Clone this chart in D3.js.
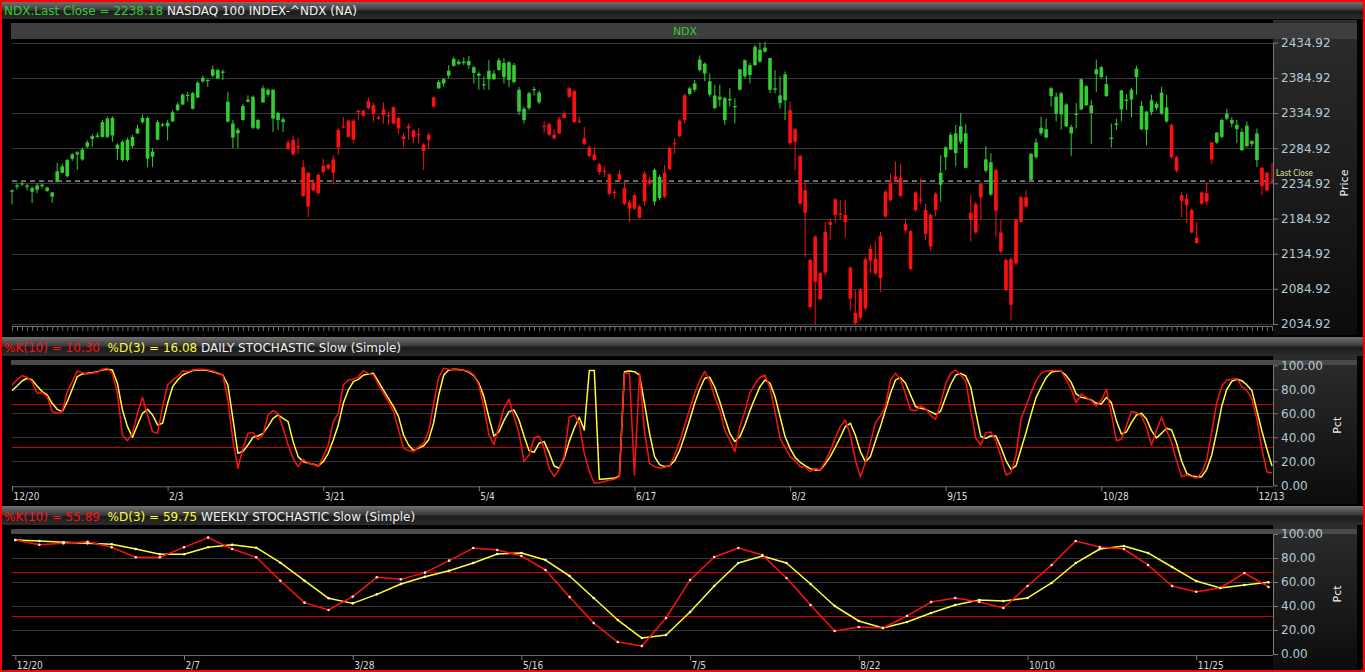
<!DOCTYPE html>
<html>
<head>
<meta charset="utf-8">
<script src="https://cdn.jsdelivr.net/npm/d3@7"></script>
<style>
body { margin: 0; background: #000; overflow: hidden; }
svg { display: block; }
</style>
</head>
<body>
<script>
// daily candles, 12/20 .. 12/13 (252 sessions)
var open = [
2223,2230,2234,2232,2228,2226,2233,2229,2222,2237, 2250,2245,2270,2276,2269,2287,2298,2301,2301,2301,
2303,2290,2268,2268,2288,2306,2322,2328,2273,2297, 2318,2316,2323,2339,2347,2361,2341,2357,2380,2382,
2388,2384,2392,2351,2320,2311,2325,2354,2314,2313, 2350,2361,2368,2335,2326,2293,2297,2288,2258,2250,
2236,2221,2251,2256,2250,2286,2315,2301,2297,2336, 2331,2342,2334,2327,2332,2331,2320,2328,2302,2313,
2310,2304,2290,2297,2344,2370,2377,2388,2402,2405, 2406,2403,2400,2391,2376,2383,2383,2396,2406,2407,
2403,2368,2325,2342,2368,2364,2317,2319,2304,2306, 2328,2370,2366,2323,2299,2286,2276,2262,2253,2248,
2223,2240,2228,2208,2199,2202,2209,2240,2209,2214, 2216,2255,2291,2302,2325,2362,2368,2396,2405,2380,
2342,2358,2356,2355,2345,2368,2387,2403,2403,2408, 2428,2413,2370,2360,2353,2339,2312,2274,2225,2126,
2095,2107,2108,2180,2190,2192,2190,2115,2051,2044, 2057,2125,2128,2100,2188,2211,2240,2243,2177,2167,
2197,2212,2197,2145,2197,2233,2272,2283,2306,2294, 2306,2193,2165,2215,2253,2265,2254,2165,2126,2062,
2121,2180,2215,2240,2272,2306,2312,2359,2358,2333, 2347,2315,2333,2340,2373,2346,2390,2400,2376,2300,
2320,2340,2354,2354,2386,2345,2311,2336,2348,2334, 2343,2318,2272,2218,2204,2197,2158,2206,2209,2269,
2293,2301,2334,2325,2318,2308,2288,2295,2306,2257, 2250,2236];
var high = [
2226,2235,2237,2234,2231,2235,2235,2230,2223,2264, 2263,2270,2278,2281,2286,2296,2305,2307,2325,2330,
2330,2292,2296,2300,2304,2318,2333,2330,2285,2325, 2321,2325,2339,2350,2363,2365,2365,2380,2388,2383,
2402,2398,2397,2365,2325,2314,2348,2360,2360,2327, 2374,2370,2369,2337,2329,2297,2303,2300,2268,2251,
2240,2249,2270,2263,2275,2314,2329,2326,2326,2340, 2340,2357,2349,2331,2350,2337,2345,2330,2306,2320,
2312,2314,2292,2307,2359,2382,2385,2403,2415,2411, 2414,2416,2402,2394,2387,2410,2396,2413,2413,2409,
2406,2372,2344,2365,2372,2367,2323,2321,2312,2330, 2338,2372,2369,2330,2315,2288,2287,2264,2259,2249,
2226,2254,2240,2211,2220,2204,2252,2244,2256,2247, 2261,2287,2299,2326,2362,2372,2382,2417,2407,2391,
2375,2375,2358,2370,2356,2398,2411,2406,2432,2435, 2436,2414,2396,2387,2394,2351,2314,2275,2237,2128,
2161,2109,2180,2185,2214,2211,2211,2116,2083,2086, 2130,2147,2152,2166,2225,2249,2266,2262,2185,2168,
2224,2242,2206,2192,2223,2275,2288,2307,2318,2335, 2319,2218,2209,2237,2288,2278,2256,2183,2128,2130,
2185,2217,2225,2278,2299,2330,2327,2372,2364,2365, 2349,2318,2349,2384,2375,2353,2411,2402,2388,2320,
2327,2368,2362,2371,2402,2352,2338,2361,2351,2372, 2361,2320,2274,2223,2220,2199,2180,2224,2237,2294,
2308,2327,2341,2329,2325,2313,2323,2296,2313,2259, 2251,2264];
var low = [
2205,2226,2231,2225,2207,2221,2228,2223,2207,2236, 2249,2243,2267,2254,2267,2285,2287,2299,2300,2299,
2294,2268,2266,2266,2285,2305,2320,2258,2258,2296, 2315,2296,2322,2338,2346,2351,2340,2356,2378,2372,
2386,2383,2382,2321,2285,2285,2324,2350,2312,2311, 2349,2358,2308,2311,2308,2282,2274,2277,2216,2187,
2223,2218,2248,2254,2235,2275,2313,2300,2292,2325, 2330,2340,2323,2325,2320,2318,2319,2305,2287,2297,
2292,2292,2254,2284,2343,2369,2372,2384,2401,2403, 2403,2398,2377,2368,2368,2368,2382,2395,2377,2372,
2377,2332,2320,2339,2360,2348,2306,2302,2297,2305, 2327,2356,2320,2320,2289,2272,2267,2247,2244,2218,
2213,2238,2204,2180,2197,2185,2203,2232,2204,2211, 2214,2254,2277,2301,2320,2360,2365,2394,2380,2358,
2340,2344,2318,2344,2320,2367,2384,2377,2402,2406, 2421,2363,2363,2341,2325,2289,2254,2204,2130,2057,
2034,2069,2104,2154,2180,2183,2158,2054,2034,2040, 2054,2107,2104,2080,2186,2209,2237,2216,2164,2111,
2194,2206,2154,2139,2188,2209,2254,2282,2259,2291, 2256,2152,2163,2183,2250,2217,2159,2135,2082,2040,
2119,2179,2199,2239,2270,2303,2299,2344,2323,2311, 2315,2274,2313,2339,2345,2291,2365,2384,2358,2286,
2311,2323,2339,2329,2361,2310,2289,2332,2339,2332, 2321,2270,2250,2187,2178,2164,2149,2204,2204,2263,
2291,2299,2325,2315,2292,2281,2286,2287,2258,2218, 2224,2235];
var close = [
2225,2232,2235,2230,2223,2232,2231,2224,2216,2252, 2259,2268,2276,2279,2283,2293,2302,2303,2322,2327,
2328,2284,2294,2297,2301,2313,2328,2270,2280,2322, 2319,2321,2336,2347,2361,2360,2363,2378,2385,2381,
2397,2396,2394,2323,2300,2306,2345,2351,2358,2325, 2370,2368,2327,2325,2322,2284,2276,2287,2217,2202,
2225,2247,2260,2261,2269,2311,2316,2324,2324,2338, 2338,2352,2346,2329,2340,2332,2343,2313,2298,2316,
2301,2305,2281,2304,2357,2379,2383,2395,2412,2408, 2408,2409,2392,2388,2375,2395,2391,2410,2386,2382,
2379,2337,2341,2363,2369,2350,2316,2304,2299,2326, 2334,2358,2322,2324,2291,2274,2268,2251,2252,2220,
2222,2248,2206,2199,2218,2186,2249,2235,2254,2244, 2250,2285,2292,2324,2360,2370,2377,2411,2391,2361,
2360,2354,2325,2353,2344,2397,2410,2389,2429,2425, 2422,2368,2368,2349,2390,2292,2294,2206,2193,2059,
2159,2070,2166,2176,2212,2191,2180,2071,2036,2083, 2127,2142,2107,2160,2223,2236,2245,2217,2168,2113,
2222,2212,2163,2190,2220,2250,2286,2304,2278,2316, 2257,2183,2205,2234,2269,2219,2196,2138,2083,2127,
2183,2215,2202,2277,2293,2314,2300,2370,2334,2363, 2316,2306,2334,2383,2346,2335,2397,2386,2359,2298,
2318,2367,2352,2368,2398,2312,2337,2353,2342,2364, 2323,2272,2253,2210,2213,2165,2150,2222,2221,2293,
2307,2325,2327,2320,2312,2282,2317,2291,2268,2231, 2225,2238.18];
// first bar of each colour run, starting with an up (green) run
var trendStarts = [0,55,85,106,128,130,135,155,185,191,194,196,203,231,240,249];

// daily stochastic
var dayK = [
83.6,87.8,91.4,90,86.4,76.7,77.2,73.9,61.4,60, 61.4,78.1,86.4,95.3,93.9,92.8,93.3,94.2,96.7,97.5,
93.3,76.7,41.9,37.2,43.3,60,73.3,58.6,44.7,43.3, 65.6,83.6,87.8,90.6,95.3,94.7,96.1,96.7,96.7,96.1,
95.3,93.9,91.9,71.1,37.8,14.2,30.8,43.3,43.9,38.3, 41.9,58.6,62.2,60,47.5,33.6,22.5,15.6,21.7,18.3,
17.8,15.6,23.9,33.6,53.1,60,83.6,87.8,88.3,90.6, 95.3,93.3,91.9,83.6,76.7,69.7,61.4,46.1,30.8,28.9,
28.1,32,35,45,68,90,97.5,96.7,96.4,96.1, 95.8,95,91.9,83.6,65.6,42,34,49.4,64.2,71.7,
57.2,43.3,19.7,25.3,39.2,41.1,30.8,14.2,7.2,13.3, 23.9,56.7,58.6,51.7,26.7,11.4,1.7,2.2,3.1,4.4,
5,7.2,93.3,93.3,8.6,93.3,45,18.3,15.6,14.2, 15,16.1,25.3,36.4,50.3,63.3,76.7,87.2,94.7,87.2,
73.3,62.8,45.6,37.8,28.1,48.9,61.4,77.2,84.4,90, 91.9,80.8,61.4,39.2,31.7,23.9,20.6,15.6,15,11.4,
14.2,12.8,19.7,28.9,39.2,48.9,54.4,41.9,21.1,7.2, 18.9,35.6,52.2,57.8,65.6,87.8,93.3,88.3,76.1,62.8,
62.2,66.1,63.9,58.3,55,68.9,84.4,93.3,96.1,91.7, 87.2,61.4,39.2,33.6,43.9,44.4,37.2,23.9,8.6,10.6,
25.3,55,66.1,77.2,87.2,93.3,95.3,95.6,95.6,95, 88.3,80,68.9,76.1,73.3,70.6,66.1,70.6,80,60,
37.2,38.3,49.7,61.4,60.6,57.8,48.3,33.6,46.1,56.7, 45.6,35.6,20.3,7.2,8.6,7.2,5.8,10.6,21.1,44.7,
68.9,82.8,87.8,88.3,88.9,82.2,78.9,72,55,30, 11,10.3];
var dayD = [
78.9,82.8,86.9,89.2,87.8,82.8,78.1,75.3,68.3,63.3, 61.4,69.7,80,90.6,92.8,93.3,93.9,94.7,96.1,96.7,
96.1,85,62.8,48.9,40,50.3,60,63.3,58.6,50.3, 51.7,68.3,82.2,87.8,91.9,93.9,95.6,96.1,96.1,95.6,
94.7,93.3,91.9,83.6,55.8,26.7,28.1,33.6,40,41.1, 43.3,48.9,55.8,58.6,55.8,53.1,36.4,23.9,19.7,18.3,
17.8,16.1,19.7,26.7,37.8,50.3,68.3,79.4,86.4,88.3, 91.9,92.8,93.3,86.4,79.4,72.5,65.6,57.2,41.9,33.6,
28.9,31,33,38,52,75,91.9,96.1,96.7,96.4, 95.8,94.4,91.4,85,73.9,56.7,41.1,44.7,53.9,61.4,
62.8,54.4,41.1,28.9,27.5,35,36.4,27.2,16.1,14.2, 22.5,36.4,47.5,56.7,46.1,95.6,95.6,5,5.3,5.6,
5.8,7.8,94.7,95.3,94.7,91.9,68.3,43.3,23.9,17.2, 15.6,16.1,20.6,28.9,41.1,54.4,68.3,80,89.2,90,
81.7,69.7,55.8,43.3,36.4,40.6,50.3,62.2,72.5,82.2, 87.8,85,73.9,57.2,40.6,30.8,23.3,19.2,16.4,13.9,
12.8,12.8,17.8,23.9,31.7,40,48.9,51.7,41.9,28.1, 19.7,23.9,36.9,48.9,62.8,76.7,87.8,89.7,85,75.3,
65.6,64.2,63.3,61.4,59.2,61.9,73.3,84.2,91.9,93.3, 91.1,81.7,60.6,40.6,39.2,41.1,41.1,31.7,20.6,13.3,
16.1,30,43.9,59.2,73.1,81.7,89.7,94.2,95.3,95, 91.4,85.8,76.1,73.3,72.5,71.1,68.3,67.8,73.3,68.9,
53.9,42.8,44.4,52.2,58.6,60,55.3,45.6,39.4,43.3, 47.5,46.1,35,20.3,10,7.8,7.2,7.2,13.3,25.3,
44.7,66.1,80,86.7,88.3,87.2,83.6,78.9,62,45, 30,16.08];

// weekly stochastic (53 weeks)
var weekK = [
95,91.1,92.2,93.6,88.9,80.6,80.6,88.9,97,87.5, 80.6,61.1,42.8,36.7,47.8,63.9,62.2,67.8,77.8,88.3,
86.7,81.7,70,47.5,25.8,10,6.7,30,61.7,80.8, 88.3,82.5,63.3,40.8,19.2,22.5,21.7,31.7,43.3,46.7,
43.3,38.3,56.7,74.2,94.2,89.2,87.5,74.2,56.7,51.9, 55,67.5,55.89];
var weekD = [
95,94.2,93.1,92.2,91.4,87.5,83.1,83.1,88.9,91.1, 88.6,76.1,61.1,46.4,42.2,49.7,58.3,64.4,69.4,75.8,
83.3,84.2,78.3,65,46.7,28.3,13.3,15.8,35,56.7, 75.8,81.7,75.8,58.3,40,27.5,21.7,26.7,34.2,40.8,
45,44.2,46.7,59.2,75.8,87.5,90,84.2,72.5,60.8, 55,57.5,59.75];

// axis ticks and labels
var priceTicks = [2034.92,2084.92,2134.92,2184.92,2234.92,2284.92,2334.92,2384.92,2434.92];
var pctTicks = [0,20,40,60,80,100];
var bandLevels = [32,68];
var dayTickIdx = [0,31,62,93,124,155,186,217,248];
var dayTickLabels = ["12/20","2/3","3/21","5/4","6/17","8/2","9/15","10/28","12/13"];
var weekTickIdx = [0,7,14,21,28,35,42,49];
var weekTickLabels = ["12/20","2/7","3/28","5/16","7/5","8/22","10/10","11/25"];

var W = 1365, H = 672;
var FONT = "DejaVu Sans, Verdana, sans-serif";
var COND = "DejaVu Sans Condensed, DejaVu Sans, sans-serif";
var PL = 12, PR = 1273;
var GREEN = "#33cc33", RED = "#ff1010", YEL = "#ffff33";
var fmt2 = d3.format(".2f");

var svg = d3.select("body").append("svg")
    .attr("width", W).attr("height", H)
    .attr("viewBox", `0 0 ${W} ${H}`);

var defs = svg.append("defs");
var hdr = defs.append("linearGradient").attr("id", "hdr")
    .attr("x1", 0).attr("y1", 0).attr("x2", 0).attr("y2", 1);
[[0, "#707070"], [0.45, "#3c3c3c"], [0.55, "#1c1c1c"], [1, "#2c2c2c"]]
  .forEach(s => hdr.append("stop").attr("offset", s[0]).attr("stop-color", s[1]));
var pane = defs.append("linearGradient").attr("id", "pane")
    .attr("x1", 0).attr("y1", 0).attr("x2", 0).attr("y2", 1);
[[0, "#2c2c2c"], [1, "#0c0c0c"]]
  .forEach(s => pane.append("stop").attr("offset", s[0]).attr("stop-color", s[1]));

svg.append("rect").attr("width", W).attr("height", H).attr("fill", "#000");

// scales
var xDay = d3.scaleLinear().domain([0, 251]).range([12, 1272]);
var xWeek = d3.scaleLinear().domain([0, 52]).range([15.3, 1268.5]);
var yPrice = d3.scaleLinear().domain([2034.92, 2434.92]).range([324, 42.7]);
var yDay = d3.scaleLinear().domain([0, 100]).range([485.3, 365.3]);
var yWeek = d3.scaleLinear().domain([0, 100]).range([654, 534]);

function header(y, h, parts) {
  svg.append("rect").attr("x", 2).attr("y", y).attr("width", 1361).attr("height", h)
    .attr("fill", "url(#hdr)");
  var t = svg.append("text").attr("x", 4).attr("y", y + h - 4.5)
    .attr("font-family", FONT).attr("font-size", 12)
    .attr("style", "white-space:pre");
  parts.forEach(p => t.append("tspan").attr("fill", p[1]).text(p[0]));
}

function styleAxis(g, color, size, family) {
  g.attr("font-family", null).attr("font-size", null);
  g.select(".domain").attr("stroke", "#7a7a7a");
  g.selectAll(".tick line").attr("stroke", "#7a7a7a");
  g.selectAll(".tick text").attr("fill", color).attr("font-size", size).attr("font-family", family);
}

function sideBox(y0, y1) {
  svg.append("rect").attr("x", PR).attr("y", y0).attr("width", 1357 - PR).attr("height", y1 - y0)
    .attr("fill", "url(#pane)");
}

function hGrid(ticks, y) {
  svg.append("g").attr("shape-rendering", "crispEdges")
    .selectAll("line").data(ticks).join("line")
    .attr("x1", PL).attr("x2", PR)
    .attr("y1", d => Math.round(y(d)) + 0.5).attr("y2", d => Math.round(y(d)) + 0.5)
    .attr("stroke", "#383838");
}

function sideLabel(txt, x, y) {
  svg.append("text").attr("transform", `translate(${x},${y}) rotate(-90)`)
    .attr("text-anchor", "middle").attr("fill", "#f0f0f0")
    .attr("font-family", FONT).attr("font-size", 11).text(txt);
}

// ---------- title ----------
header(2, 17, [["NDX.Last Close = " + close[close.length - 1] + " ", GREEN],
               ["NASDAQ 100 INDEX-^NDX (NA)", "#f2f2f2"]]);

// ---------- price panel ----------
sideBox(20, 335);
svg.append("rect").attr("x", 11).attr("y", 23).attr("width", 1346).attr("height", 16).attr("fill", "#3e3e3e");
svg.append("text").attr("x", 685).attr("y", 35).attr("text-anchor", "middle")
  .attr("fill", GREEN).attr("font-family", FONT).attr("font-size", 11).text("NDX");
svg.append("rect").attr("x", PL).attr("y", 40).attr("width", PR - PL).attr("height", 286).attr("fill", "#000");
hGrid(priceTicks, yPrice);

var lastY = yPrice(close[close.length - 1]);
svg.append("line").attr("x1", PL).attr("x2", PR).attr("y1", lastY).attr("y2", lastY)
  .attr("stroke", "#d8d8d8").attr("stroke-dasharray", "5,4");

var trendOf = i => (d3.bisectRight(trendStarts, i) - 1) % 2 === 0 ? GREEN : RED;
var candles = svg.append("g").selectAll("g").data(close).join("g")
  .attr("fill", (d, i) => trendOf(i)).attr("stroke", (d, i) => trendOf(i));
candles.append("line")
  .attr("x1", (d, i) => xDay(i)).attr("x2", (d, i) => xDay(i))
  .attr("y1", (d, i) => yPrice(high[i])).attr("y2", (d, i) => yPrice(low[i]))
  .attr("stroke-width", 1);
candles.append("rect")
  .attr("stroke", "none")
  .attr("x", (d, i) => xDay(i) - 1.8).attr("width", 3.6)
  .attr("y", (d, i) => yPrice(Math.max(open[i], close[i])))
  .attr("height", (d, i) => Math.max(1.2, Math.abs(yPrice(open[i]) - yPrice(close[i]))));

var pAxis = svg.append("g").attr("transform", `translate(${PR},0)`)
  .call(d3.axisRight(yPrice).tickValues(priceTicks).tickFormat(fmt2).tickSize(5).tickSizeOuter(0));
styleAxis(pAxis, "#b6c8d4", 12, FONT);
// small marker for the last close, kept just above the 2234.92 label
svg.append("text").attr("x", 1276).attr("y", lastY - 5).attr("fill", "#e6e6a0")
  .attr("font-family", COND).attr("font-size", 8).text("Last Close");
sideLabel("Price", 1348, 183);

var barAxis = svg.append("g").attr("transform", "translate(0,326)")
  .call(d3.axisBottom(xDay).tickValues(d3.range(close.length)).tickFormat("").tickSize(5).tickSizeOuter(0));
styleAxis(barAxis, "#fff", 1, FONT);
barAxis.selectAll(".tick line").attr("stroke", "#6a6a6a");
barAxis.select(".domain").attr("d", `M${PL},0.5H${PR}`);

// ---------- stochastic panels ----------
function stochPanel(o) {
  header(o.top, 19, [["%K(10) = " + fmt2(o.K[o.K.length - 1]) + "  ", RED],
                     ["%D(3) = " + fmt2(o.D[o.D.length - 1]) + " ", YEL],
                     [o.title, "#f0f0f0"]]);
  sideBox(o.top + 19, o.bottom);
  svg.append("rect").attr("x", 11).attr("y", o.top + 23).attr("width", 1346).attr("height", 5).attr("fill", "#4a4a4a");
  var y0 = o.y.range()[0], y1 = o.y.range()[1];
  svg.append("rect").attr("x", PL).attr("y", y1).attr("width", PR - PL).attr("height", y0 - y1 + 1).attr("fill", "#000");
  hGrid([20, 40, 60, 80], o.y);
  svg.append("g").selectAll("line").data(bandLevels).join("line")
    .attr("x1", PL).attr("x2", PR)
    .attr("y1", d => Math.round(o.y(d)) + 0.5).attr("y2", d => Math.round(o.y(d)) + 0.5)
    .attr("stroke", "#d00000").attr("stroke-width", 1);

  var line = d3.line().x((d, i) => o.x(i)).y(d => o.y(d));
  svg.append("path").datum(o.D).attr("d", line).attr("fill", "none")
    .attr("stroke", YEL).attr("stroke-width", 1.5).attr("stroke-linejoin", "round");
  svg.append("path").datum(o.K).attr("d", line).attr("fill", "none")
    .attr("stroke", RED).attr("stroke-width", 1.5).attr("stroke-linejoin", "round");
  if (o.dots) {
    svg.append("g").selectAll("circle").data(o.D).join("circle")
      .attr("cx", (d, i) => o.x(i)).attr("cy", d => o.y(d)).attr("r", 1.3).attr("fill", "#ffffc8");
    svg.append("g").selectAll("circle").data(o.K).join("circle")
      .attr("cx", (d, i) => o.x(i)).attr("cy", d => o.y(d)).attr("r", 1.3).attr("fill", "#ffe0e0");
  }

  var ya = svg.append("g").attr("transform", `translate(${PR},0)`)
    .call(d3.axisRight(o.y).tickValues(pctTicks).tickFormat(fmt2).tickSize(5).tickSizeOuter(0));
  styleAxis(ya, "#b6c8d4", 12, FONT);
  sideLabel("Pct", 1341, (y0 + y1) / 2);

  svg.append("line").attr("x1", PL).attr("x2", PR).attr("y1", y0 + 1.5).attr("y2", y0 + 1.5)
    .attr("stroke", "#6a6a6a");
  var xa = svg.append("g").attr("transform", `translate(0,${y0 + 1})`)
    .call(d3.axisBottom(o.x).tickValues(o.tickIdx).tickFormat((d, i) => o.tickLabels[i]).tickSize(5).tickPadding(2));
  styleAxis(xa, "#dcdcdc", 10, COND);
  xa.select(".domain").remove();
  xa.selectAll(".tick text").attr("text-anchor", "start").attr("x", 1);
}

stochPanel({ top: 337, bottom: 504, y: yDay, x: xDay, K: dayK, D: dayD, dots: false,
  title: "DAILY STOCHASTIC Slow (Simple)", tickIdx: dayTickIdx, tickLabels: dayTickLabels });
stochPanel({ top: 506, bottom: 670, y: yWeek, x: xWeek, K: weekK, D: weekD, dots: true,
  title: "WEEKLY STOCHASTIC Slow (Simple)", tickIdx: weekTickIdx, tickLabels: weekTickLabels });

// outer frame
svg.append("rect").attr("x", 1).attr("y", 1).attr("width", W - 2).attr("height", H - 2)
  .attr("fill", "none").attr("stroke", "#ff0000").attr("stroke-width", 2);
</script>
</body>
</html>
